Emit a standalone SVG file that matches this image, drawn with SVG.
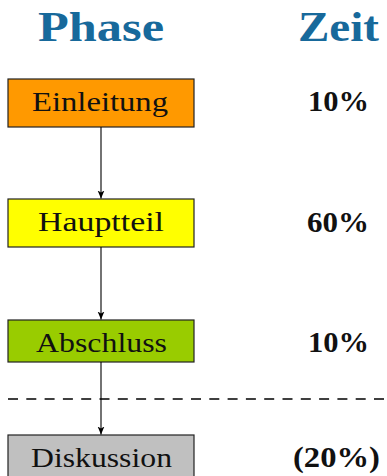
<svg xmlns="http://www.w3.org/2000/svg" width="387" height="476" viewBox="0 0 387 476">
<defs>
<style>
.box{stroke:#222;stroke-width:1.2}
.lbl{font-family:"Liberation Serif","DejaVu Serif",serif;font-size:27px;fill:#111;text-anchor:middle}
.pct{font-family:"Liberation Serif","DejaVu Serif",serif;font-size:29px;font-weight:bold;fill:#111;text-anchor:middle}
.hdr{font-family:"Liberation Serif","DejaVu Serif",serif;font-size:43px;font-weight:bold;fill:#17699b;text-anchor:middle}
.con{stroke:#000;stroke-width:1.1;fill:none}
</style>
<marker id="ah" viewBox="0 0 8 8" refX="8" refY="4" markerWidth="8" markerHeight="8" markerUnits="userSpaceOnUse" orient="auto">
<path d="M0,0.6 L8,4 L0,7.4 L2,4 Z" fill="#000"/>
</marker>
</defs>
<g id="headers">
<text class="hdr" x="101" y="41" textLength="126" lengthAdjust="spacingAndGlyphs">Phase</text>
<text class="hdr" x="338.5" y="41" textLength="81" lengthAdjust="spacingAndGlyphs">Zeit</text>
</g>
<g id="einleitung">
<rect class="box" x="8" y="79" width="186" height="48" fill="#ff9900"/>
<text class="lbl" x="100" y="111" textLength="136" lengthAdjust="spacingAndGlyphs">Einleitung</text>
</g>
<g id="hauptteil">
<rect class="box" x="8" y="199" width="186" height="48" fill="#ffff00"/>
<text class="lbl" x="101" y="231" textLength="126" lengthAdjust="spacingAndGlyphs">Hauptteil</text>
</g>
<g id="abschluss">
<rect class="box" x="8" y="320" width="186" height="42" fill="#99cc00"/>
<text class="lbl" x="101.5" y="352" textLength="131" lengthAdjust="spacingAndGlyphs">Abschluss</text>
</g>
<g id="diskussion">
<rect class="box" x="8" y="435" width="186" height="48" fill="#c0c0c0"/>
<text class="lbl" x="101.5" y="467" textLength="141" lengthAdjust="spacingAndGlyphs">Diskussion</text>
</g>
<g id="zeiten">
<text class="pct" x="338.5" y="111" textLength="61" lengthAdjust="spacingAndGlyphs">10%</text>
<text class="pct" x="338" y="232" textLength="62" lengthAdjust="spacingAndGlyphs">60%</text>
<text class="pct" x="338.5" y="352" textLength="61" lengthAdjust="spacingAndGlyphs">10%</text>
<text class="pct" x="336.5" y="467" textLength="87" lengthAdjust="spacingAndGlyphs">(20%)</text>
</g>
<g id="connectors">
<line class="con" x1="101" y1="127" x2="101" y2="198.5" marker-end="url(#ah)"/>
<line class="con" x1="101" y1="247" x2="101" y2="319.5" marker-end="url(#ah)"/>
<line class="con" x1="101" y1="362" x2="101" y2="434.5" marker-end="url(#ah)"/>
<line x1="8" y1="399" x2="387" y2="399" stroke="#000" stroke-width="1.6" stroke-dasharray="10,8.3"/>
</g>
</svg>
